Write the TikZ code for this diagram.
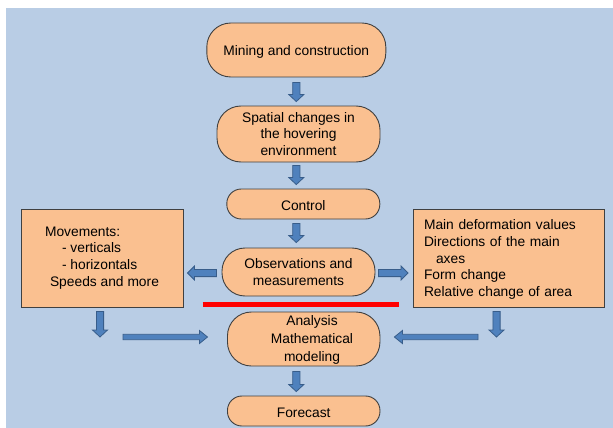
\documentclass[tikz,border=0pt]{standalone}
\usepackage{fontspec}
\setmainfont{Liberation Sans}
\usetikzlibrary{calc}
\definecolor{bgblue}{RGB}{185,205,229}
\definecolor{boxfill}{RGB}{250,192,144}
\definecolor{boxline}{RGB}{64,64,64}
\definecolor{arrfill}{RGB}{79,129,189}
\definecolor{arrline}{RGB}{56,93,138}
% #1 from, #2 to, #3 shorten start, #4 shorten end, #5 shaft half width, #6 head half width, #7 head length
\newcommand\blockarrow[7]{%
  \coordinate (ba) at ($(#1)!#3!(#2)$);
  \coordinate (bb) at ($(#2)!#4!(#1)$);
  \coordinate (bc) at ($(bb)!#7!(ba)$);
  \draw[blockarr] ($(ba)!#5!90:(bb)$) -- ($(bc)!#5!90:(bb)$) -- ($(bc)!#6!90:(bb)$) -- (bb)
     -- ($(bc)!#6!-90:(bb)$) -- ($(bc)!#5!-90:(bb)$) -- ($(ba)!#5!-90:(bb)$) -- cycle;}
\begin{document}
\begin{tikzpicture}[x=1pt,y=-1pt,
  txt/.style={font=\fontsize{13.8pt}{16.7pt}\selectfont, text=black},
  lowered/.style={execute at begin node={\rule{0pt}{13pt}}},
  stadium/.style={txt, lowered, draw=boxline, fill=boxfill, line width=0.9pt, align=center, inner sep=2pt},
  recbox/.style={txt, lowered, draw=boxline, fill=boxfill, line width=0.9pt, align=left},
  blockarr/.style={fill=arrfill, draw=arrline, line width=0.8pt, line join=miter}]
\path[use as bounding box] (0,0) rectangle (613,428);
\clip (0,0) rectangle (613,428);
\fill[white] (0,0) rectangle (613,428);
\fill[bgblue] (6,8) rectangle (613,428);

\node[stadium, minimum width=179pt, minimum height=54pt, rounded corners=24pt] (mining) at (296.3,50) {Mining and construction};
\node[stadium, minimum width=163pt, minimum height=56pt, rounded corners=24pt] (spatial) at (298.5,134) {Spatial changes in\\the hovering\\environment};
\node[stadium, minimum width=153pt, minimum height=30pt, rounded corners=14.5pt] (control) at (303.3,204) {Control};
\node[stadium, minimum width=153pt, minimum height=48pt, rounded corners=23pt] (obs) at (298.5,272) {Observations and\\measurements};
\node[stadium, minimum width=152.5pt, minimum height=54pt, rounded corners=24pt] (analysis) at (303.7,339) {};
\node[txt, lowered, align=center, font=\fontsize{13.8pt}{18.4pt}\selectfont, inner sep=0pt] (analysistext) at (312,340) {Analysis\\Mathematical\\modeling};
\node[stadium, minimum width=152.5pt, minimum height=30pt, rounded corners=14.5pt] (forecast) at (303.7,411) {Forecast};

\node[recbox, minimum width=162pt, minimum height=98pt] (left) at (102,258)
  {Movements:\\\hspace*{17pt}- verticals\\\hspace*{17pt}- horizontals\\\hspace*{5pt}Speeds and more};
\node[recbox, text width=169pt, inner xsep=11pt, minimum height=98pt] (right) at (508.5,258)
  {Main deformation values\\Directions of the main\\\hspace*{12pt}axes\\Form change\\Relative change of area};

\coordinate (redl) at (202.7,304.5);
\coordinate (redr) at (399,304.5);
\draw[red, line width=4.5pt] (redl) -- (redr);

% vertical centre arrows
\coordinate (a1s) at (mining.south);
\coordinate (a1e) at (mining.south |- spatial.north);
\coordinate (a2s) at (spatial.south -| mining.south);
\coordinate (a2e) at (control.north -| mining.south);
\coordinate (a3s) at (control.south -| mining.south);
\coordinate (a3e) at (obs.north -| mining.south);
\coordinate (a4s) at (analysis.south -| mining.south);
\coordinate (a4e) at (forecast.north -| mining.south);
\blockarrow{a1s}{a1e}{5pt}{4pt}{3.6pt}{7.5pt}{7pt}
\blockarrow{a2s}{a2e}{3pt}{4pt}{3.6pt}{7.5pt}{7pt}
\blockarrow{a3s}{a3e}{4pt}{5pt}{3.6pt}{7.5pt}{7pt}
\blockarrow{a4s}{a4e}{5pt}{4pt}{3.6pt}{7.5pt}{7pt}

% side arrows from observations
\coordinate (a5s) at ($(obs.west)+(0,1)$);
\coordinate (a5e) at (a5s -| left.east);
\coordinate (a6s) at ($(obs.east)+(0,1)$);
\coordinate (a6e) at (a6s -| right.west);
\blockarrow{a5s}{a5e}{5pt}{4pt}{3.6pt}{7pt}{7pt}
\blockarrow{a6s}{a6e}{3pt}{4.5pt}{3.6pt}{7pt}{7pt}

% lower left and right arrows
\coordinate (ldowns) at ($(left.south)+(-2,0)$);
\coordinate (ldown) at (100,337);
\coordinate (lstart) at (123,337);
\coordinate (lend) at (lstart -| analysis.west);
\coordinate (rdowns) at ($(right.south)+(-12,0)$);
\coordinate (rdown) at (496.5,337);
\coordinate (rstart) at (478,337);
\coordinate (rend) at (rstart -| analysis.east);
\blockarrow{ldowns}{ldown}{4pt}{0pt}{3.6pt}{7.5pt}{7pt}
\blockarrow{rdowns}{rdown}{4pt}{0pt}{3.6pt}{7.5pt}{7pt}
\blockarrow{lstart}{lend}{0pt}{19.5pt}{2.7pt}{6.5pt}{8pt}
\blockarrow{rstart}{rend}{0pt}{14pt}{2.7pt}{6.5pt}{8pt}
\end{tikzpicture}
\end{document}
